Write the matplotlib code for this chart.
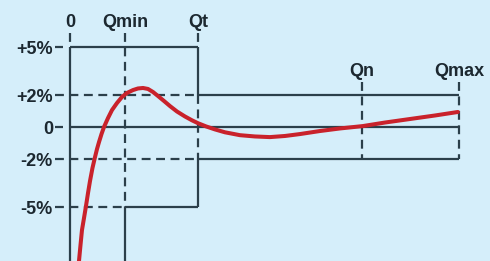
import matplotlib.pyplot as plt

# ------------------------------------------------------------
# DATA
# ------------------------------------------------------------

# flow points on the x axis (Qmax = 100)
q_names = ["0", "Qmin", "Qt", "Qn", "Qmax"]
q_values = [0, 14.1, 32.9, 75.1, 100]

# error limits in %
err_levels = [5, 2, 0, -2, -5]
err_labels = ["+5%", "+2%", "0", "-2%", "-5%"]

# error curve
curve_q = [2.31, 2.70, 3.08, 3.60, 4.11, 4.63, 5.14, 5.78, 6.43, 6.94, 7.46, 8.10,
           8.74, 9.77, 10.80, 12.08, 13.37, 14.65, 16.20, 17.48, 18.77, 20.05, 21.34,
           22.62, 24.16, 25.71, 27.51, 29.56, 31.36, 32.90, 34.96, 37.28, 39.85, 43.70,
           47.56, 51.41, 55.27, 59.13, 64.27, 69.41, 75.32, 80.98, 87.40, 93.83, 99.74]
curve_err = [-8.38, -7.38, -6.44, -5.69, -4.94, -4.13, -3.38, -2.56, -1.88, -1.38, -0.94, -0.44,
             0.0, 0.56, 1.06, 1.50, 1.88, 2.13, 2.31, 2.41, 2.44, 2.38, 2.19,
             1.94, 1.63, 1.31, 0.97, 0.66, 0.42, 0.24, 0.04, -0.15, -0.33, -0.51,
             -0.59, -0.63, -0.56, -0.44, -0.25, -0.09, 0.06, 0.28, 0.50, 0.72, 0.94]

# ------------------------------------------------------------
# PLOT
# ------------------------------------------------------------

bg = "#d5eefa"
ink = "#2b3f4a"
red = "#c9222b"
lw = 1.6
dash = (4, 2.5)

fig = plt.figure(figsize=(4.9, 2.61), dpi=100, facecolor=bg)
ax = fig.add_axes([0, 0, 1, 1])
ax.set_facecolor(bg)
ax.set_xlim(-18.0, 108.0)
ax.set_ylim(-8.375, 7.94)
ax.axis("off")

q0, qmin, qt, qn, qmax = q_values
top = 5.9
tick_l, tick_r = -3.9, -1.8

def solid(xs, ys):
    ax.plot(xs, ys, color=ink, lw=lw, solid_capstyle="butt")

def dashed(xs, ys):
    ax.plot(xs, ys, color=ink, lw=lw, dashes=dash, dash_capstyle="butt")

# vertical lines
dashed([q0, q0], [top, 5]); solid([q0, q0], [5, -8.4])
dashed([qmin, qmin], [top, -5]); solid([qmin, qmin], [-5, -8.4])
dashed([qt, qt], [top, 5]); solid([qt, qt], [5, 2])
dashed([qt, qt], [2, -2]); solid([qt, qt], [-2, -5])
dashed([qn, qn], [2.8, -2])
dashed([qmax, qmax], [2.8, -2])

# horizontal lines
solid([tick_l, tick_r], [5, 5]); solid([q0, qt], [5, 5])
dashed([tick_l, qt], [2, 2]); solid([qt, qmax], [2, 2])
solid([tick_l, tick_r], [0, 0]); solid([q0, qmax], [0, 0])
dashed([tick_l, qt], [-2, -2]); solid([qt, qmax], [-2, -2])
dashed([tick_l, qmin], [-5, -5]); solid([qmin, qt], [-5, -5])

# error curve
ax.plot(curve_q, curve_err, color=red, lw=2.9, solid_joinstyle="round",
        solid_capstyle="round", zorder=5)

# labels
font = dict(family="Liberation Sans", weight="bold", size=13, color="#1c2830")
for name, q in zip(q_names, q_values):
    ylab = 3.5 if name in ("Qn", "Qmax") else 6.56
    ax.text(q, ylab, name, ha="center", va="center", **font)
for lab, lev in zip(err_labels, err_levels):
    ax.text(-4.4, lev - 0.15, lab, ha="right", va="center", **font)

fig.savefig("out.png", dpi=100, facecolor=bg)
plt.close(fig)
